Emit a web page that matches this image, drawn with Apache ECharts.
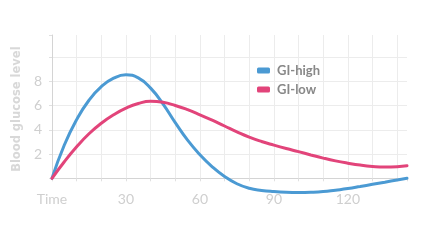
<!DOCTYPE html>
<html><head><meta charset="utf-8">
<script src="https://cdn.jsdelivr.net/npm/echarts@6/dist/echarts.min.js"></script>
<style>html,body{margin:0;padding:0;background:#fff}#c{width:430px;height:241px}</style>
</head><body><div id="c"></div>
<script>
const seriesNames = ['GI-high', 'GI-low'];
const timeX = [0, 5, 10, 15, 20, 25, 30, 35, 40, 45, 50, 55, 60, 65, 70, 75, 80, 85, 90, 95, 100, 105, 110, 115, 120, 125, 130, 135, 140, 144];
const highY = [0, 2.75, 4.85, 6.45, 7.57, 8.27, 8.55, 8.3, 7.45, 6.15, 4.6, 3.15, 1.95, 0.95, 0.15, -0.45, -0.82, -1.0, -1.1, -1.16, -1.18, -1.16, -1.1, -0.98, -0.85, -0.68, -0.5, -0.32, -0.14, 0];
const lowY = [0, 1.37, 2.6, 3.68, 4.55, 5.25, 5.8, 6.18, 6.36, 6.28, 6.02, 5.67, 5.25, 4.8, 4.32, 3.84, 3.4, 3.04, 2.74, 2.46, 2.2, 1.93, 1.67, 1.44, 1.25, 1.09, 0.98, 0.93, 0.96, 1.04];
const xTickLabels = {0: 'Time', 30: '30', 60: '60', 90: '90', 120: '120'};
const yTickLabels = [2, 4, 6, 8];
const yAxisName = 'Blood glucose level';

const font = 'Lato';
const grid = '#ececec';
const chart = echarts.init(document.getElementById('c'), null, {renderer: 'canvas'});
const xSplitColors = [];
for (let i = 0; i < 15; i++) xSplitColors.push(grid);
xSplitColors.push('rgba(0,0,0,0)');
chart.setOption({
  animation: false,
  grid: {left: 52, right: 23, top: 35, bottom: 62.7},
  legend: {
    orient: 'vertical', left: 257, top: 63, itemGap: 4, padding: 0,
    icon: 'roundRect', itemWidth: 13, itemHeight: 6,
    textStyle: {fontFamily: font, fontWeight: 'bold', fontSize: 13, color: '#888', lineHeight: 15, padding: [0,0,0,2]},
    data: seriesNames
  },
  xAxis: {
    type: 'value', min: 0, max: 144, interval: 10,
    axisLine: {show: true, lineStyle: {color: '#d4d4d4', width: 1}},
    axisTick: {show: true, length: 3, lineStyle: {color: '#e0e0e0'}},
    splitLine: {show: true, lineStyle: {color: xSplitColors, width: 1}},
    axisLabel: {
      margin: 14, fontFamily: font, fontSize: 14, color: '#cfcfcf',
      formatter: v => xTickLabels[v] !== undefined ? xTickLabels[v] : ''
    }
  },
  yAxis: {
    type: 'value', min: 0, max: 11.84, interval: 2,
    name: yAxisName, nameLocation: 'middle', nameGap: 16, nameRotate: 90,
    nameTextStyle: {fontFamily: 'DejaVu Sans', fontWeight: 'bold', fontSize: 11.5, color: '#d8d8d8', padding: [0, 5, 0, 0]},
    axisLine: {show: true, lineStyle: {color: '#d4d4d4', width: 1}},
    axisTick: {show: true, length: 3, lineStyle: {color: '#e0e0e0'}},
    splitLine: {show: true, lineStyle: {color: [grid, grid, grid, grid, grid, grid, 'rgba(0,0,0,0)'], width: 1}},
    axisLabel: {
      margin: 10, fontFamily: font, fontSize: 14, color: '#cfcfcf',
      formatter: v => yTickLabels.indexOf(v) >= 0 ? String(v) : ''
    }
  },
  series: [
    {name: seriesNames[0], type: 'line', smooth: 0.5, symbol: 'none', clip: false,
     data: timeX.map((x, i) => [x, highY[i]]),
     lineStyle: {color: '#4b9ad3', width: 3, cap: 'round'}, itemStyle: {color: '#4b9ad3'}},
    {name: seriesNames[1], type: 'line', smooth: 0.5, symbol: 'none', clip: false,
     data: timeX.map((x, i) => [x, lowY[i]]),
     lineStyle: {color: '#e2447a', width: 3, cap: 'round'}, itemStyle: {color: '#e2447a'}}
  ]
});
</script></body></html>
